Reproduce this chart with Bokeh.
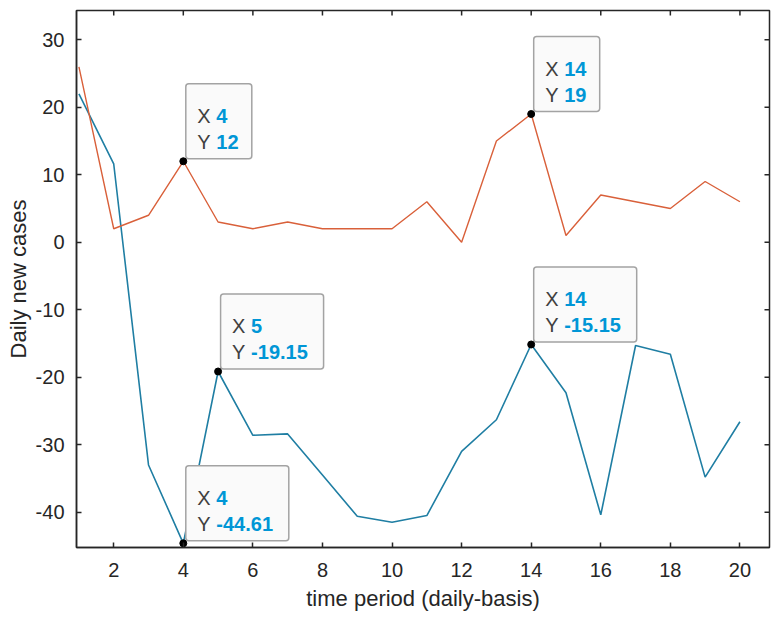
import math
from bokeh.plotting import figure
from bokeh.models import FixedTicker, Range1d
from bokeh.embed import file_html
from bokeh.resources import INLINE
from bokeh.core.properties import value

# ---- data -------------------------------------------------------------
days = list(range(1, 21))
series_blue = [22.0, 11.6, -33.0, -44.61, -19.15, -28.6, -28.4, -34.5, -40.6, -41.5,
               -40.5, -31.0, -26.3, -15.15, -22.3, -40.4, -15.3, -16.6, -34.8, -26.6]
series_orange = [26, 2, 4, 12, 3, 2, 3, 2, 2, 2, 6, 0, 15, 19, 1, 7, 6, 5, 9, 6]
x_ticks = [2, 4, 6, 8, 10, 12, 14, 16, 18, 20]
y_ticks = [-40, -30, -20, -10, 0, 10, 20, 30]
# data tips: (series name, index of the point)
tip_series = ["orange", "orange", "blue", "blue", "blue"]
tip_index = [3, 13, 4, 3, 13]

x_label = "time period (daily-basis)"
y_label = "Daily new cases"

# ---- layout -------------------------------------------------------------
W, H = 782, 621
BL, BR, BT, BB = 76, 13, 10, 74
X0, X1 = 0.93, 20.85
Y0, Y1 = -45.23, 34.34
FONT = "Liberation Sans"
AX_COL = "#262626"

p = figure(width=W, height=H, x_range=Range1d(X0, X1), y_range=Range1d(Y0, Y1),
           output_backend="svg", toolbar_location=None,
           min_border_left=BL, min_border_right=BR, min_border_top=BT, min_border_bottom=BB)
p.grid.visible = False
p.outline_line_color = AX_COL
p.outline_line_width = 1.5
p.background_fill_color = "white"
p.border_fill_color = "white"


def style_axis(ax, ticks):
    ax.ticker = FixedTicker(ticks=ticks)
    ax.major_label_overrides = {t: f"{t:d}" for t in ticks}
    ax.axis_line_color = AX_COL
    ax.axis_line_width = 1.5
    ax.major_tick_in = 5
    ax.major_tick_out = 0
    ax.major_tick_line_color = AX_COL
    ax.major_tick_line_width = 1.5
    ax.minor_tick_line_color = None
    ax.major_label_text_font = FONT
    ax.major_label_text_font_size = "20px"
    ax.major_label_text_color = AX_COL
    ax.axis_label_text_font = FONT
    ax.axis_label_text_font_size = "22px"
    ax.axis_label_text_font_style = "normal"
    ax.axis_label_text_color = AX_COL


xa = p.xaxis[0]
ya = p.yaxis[0]
style_axis(xa, x_ticks)
style_axis(ya, y_ticks)
xa.axis_label = x_label
ya.axis_label = y_label
xa.major_label_standoff = 15
xa.axis_label_standoff = 6
ya.major_label_standoff = 12
ya.axis_label_standoff = 2

# inward ticks on the top and right edges of the box (half of each dash is clipped)
p.scatter(x_ticks, [Y1] * len(x_ticks), marker="dash", size=10, angle=math.pi / 2,
          line_color=AX_COL, line_width=1.5)
p.scatter([X1] * len(y_ticks), y_ticks, marker="dash", size=10,
          line_color=AX_COL, line_width=1.5)

# ---- lines -------------------------------------------------------------
p.line(days, series_blue, line_color="#1f7ea3", line_width=1.6)
p.line(days, series_orange, line_color="#d9603a", line_width=1.4)

# ---- data tips ----------------------------------------------------------
series = {"blue": series_blue, "orange": series_orange}
px_x = (W - BL - BR) / (X1 - X0)
px_y = (H - BT - BB) / (Y1 - Y0)
GAP = 2.5
BOX_H = 75

tx, ty, xs_txt, ys_txt = [], [], [], []
lefts, rights, bottoms, tops = [], [], [], []
for s, i in zip(tip_series, tip_index):
    x = days[i]
    y = series[s][i]
    tx.append(x)
    ty.append(y)
    xt = f"{x:g}"
    yt = f"{y:g}"
    xs_txt.append(xt)
    ys_txt.append(yt)
    w = 47.5 + 9.25 * max(len(xt), len(yt))
    l = x + GAP / px_x
    b = y + GAP / px_y
    lefts.append(l)
    rights.append(l + w / px_x)
    bottoms.append(b)
    tops.append(b + BOX_H / px_y)

p.quad(left=lefts, right=rights, bottom=bottoms, top=tops,
       fill_color="#fafafa", line_color="#a3a3a3", line_width=1.5, border_radius=3)

common = dict(text_font=value(FONT), text_font_size="20px", text_baseline="alphabetic",
              text_align="left")
p.text(x=tx, y=ty, text=["X"] * len(tx), x_offset=14, y_offset=-45,
       text_color="#404040", **common)
p.text(x=tx, y=ty, text=["Y"] * len(tx), x_offset=14, y_offset=-19,
       text_color="#404040", **common)
p.text(x=tx, y=ty, text=xs_txt, x_offset=33, y_offset=-45,
       text_color="#0096d6", text_font_style="bold", **common)
p.text(x=tx, y=ty, text=ys_txt, x_offset=33, y_offset=-19,
       text_color="#0096d6", text_font_style="bold", **common)

p.scatter(tx, ty, size=7, fill_color="black", line_color="black")

open("out.html", "w").write(file_html(p, INLINE))
